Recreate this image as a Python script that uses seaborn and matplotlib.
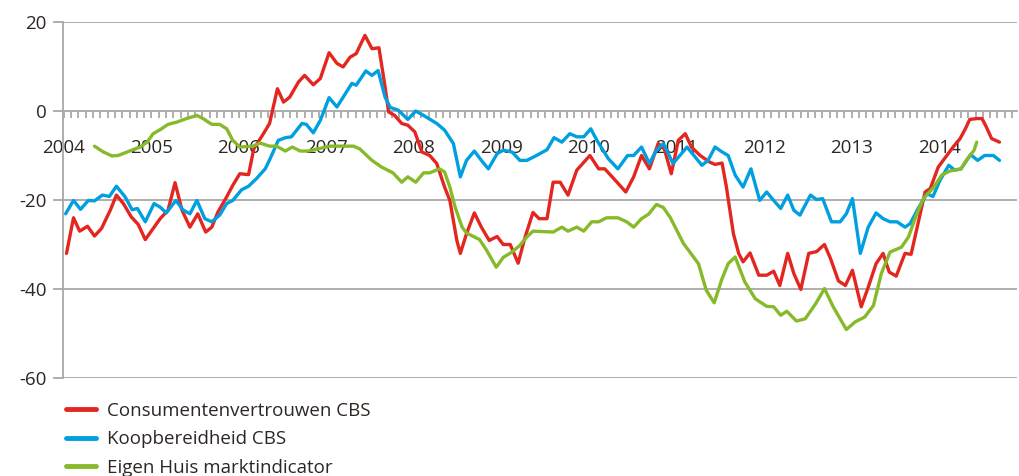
import numpy as np
import pandas as pd
import matplotlib
matplotlib.use("Agg")
import matplotlib.pyplot as plt
from matplotlib.ticker import MultipleLocator, FixedLocator
import seaborn as sns

# Consumentenvertrouwen CBS (decimal year / value)
cv_dates = [2004.03, 2004.11, 2004.18, 2004.27, 2004.35, 2004.43, 2004.53, 2004.60, 2004.68, 2004.77,
            2004.85, 2004.93, 2005.02, 2005.10, 2005.19, 2005.27, 2005.35, 2005.44, 2005.53, 2005.62,
            2005.69, 2005.76, 2005.86, 2005.93, 2006.01, 2006.11, 2006.17, 2006.28, 2006.35, 2006.44,
            2006.51, 2006.58, 2006.68, 2006.75, 2006.85, 2006.93, 2007.03, 2007.12, 2007.19, 2007.27,
            2007.34, 2007.44, 2007.52, 2007.60, 2007.67, 2007.71, 2007.78, 2007.86, 2007.93, 2008.01,
            2008.09, 2008.18, 2008.26, 2008.35, 2008.41, 2008.49, 2008.53, 2008.60, 2008.69, 2008.77,
            2008.86, 2008.95, 2009.02, 2009.10, 2009.19, 2009.27, 2009.36, 2009.43, 2009.52, 2009.59,
            2009.67, 2009.76, 2009.86, 2010.01, 2010.11, 2010.18, 2010.32, 2010.42, 2010.51, 2010.60,
            2010.69, 2010.79, 2010.86, 2010.94, 2011.02, 2011.10, 2011.17, 2011.27, 2011.38, 2011.44,
            2011.52, 2011.57, 2011.65, 2011.71, 2011.76, 2011.84, 2011.94, 2012.03, 2012.11, 2012.18,
            2012.27, 2012.34, 2012.42, 2012.51, 2012.60, 2012.69, 2012.76, 2012.85, 2012.93, 2013.01,
            2013.11, 2013.19, 2013.28, 2013.36, 2013.43, 2013.51, 2013.61, 2013.68, 2013.75, 2013.84,
            2013.90, 2013.99, 2014.07, 2014.16, 2014.24, 2014.30, 2014.35, 2014.43, 2014.49, 2014.54,
            2014.60, 2014.69]
cv_values = [-32.0, -24.0, -27.0, -25.9, -28.1, -26.4, -22.3, -18.9, -20.8, -23.8,
             -25.5, -28.9, -26.4, -24.2, -22.3, -16.1, -22.3, -26.1, -23.1, -27.2,
             -26.1, -22.7, -19.3, -16.7, -14.1, -14.3, -8.5, -5.1, -2.8, 5.0,
             2.0, 3.1, 6.5, 8.0, 5.9, 7.3, 13.1, 10.7, 9.9, 12.1,
             12.9, 17.0, 14.0, 14.2, 5.4, -0.2, -1.0, -2.8, -3.2, -4.7,
             -9.2, -10.0, -11.8, -17.1, -20.1, -29.1, -32.0, -27.6, -22.9, -26.1,
             -29.1, -28.2, -30.0, -30.0, -34.2, -28.3, -22.8, -24.2, -24.2, -16.0,
             -16.0, -18.9, -13.3, -10.0, -13.0, -13.0, -16.0, -18.2, -14.8, -10.0,
             -13.0, -7.3, -8.5, -14.1, -6.6, -5.1, -8.1, -10.0, -11.5, -12.0,
             -11.7, -17.1, -27.6, -32.0, -33.9, -31.9, -36.9, -36.9, -36.0, -39.2,
             -32.0, -36.5, -40.1, -32.0, -31.6, -30.0, -33.2, -38.2, -39.2, -35.8,
             -44.0, -39.6, -34.3, -32.0, -36.2, -37.1, -32.0, -32.2, -26.1, -18.2,
             -17.4, -12.6, -10.5, -8.1, -6.2, -4.0, -1.9, -1.7, -1.7, -3.6,
             -6.2, -7.0]

# Koopbereidheid CBS
kb_dates = [2004.02, 2004.11, 2004.19, 2004.28, 2004.35, 2004.44, 2004.52, 2004.60, 2004.70, 2004.78,
            2004.84, 2004.93, 2005.03, 2005.10, 2005.17, 2005.28, 2005.36, 2005.44, 2005.52, 2005.61,
            2005.69, 2005.78, 2005.86, 2005.93, 2006.03, 2006.11, 2006.20, 2006.30, 2006.35, 2006.45,
            2006.53, 2006.60, 2006.72, 2006.77, 2006.85, 2006.93, 2007.03, 2007.12, 2007.29, 2007.34,
            2007.45, 2007.52, 2007.59, 2007.67, 2007.73, 2007.82, 2007.93, 2008.02, 2008.11, 2008.26,
            2008.35, 2008.45, 2008.53, 2008.60, 2008.69, 2008.77, 2008.85, 2008.95, 2009.02, 2009.12,
            2009.21, 2009.29, 2009.40, 2009.52, 2009.60, 2009.69, 2009.78, 2009.86, 2009.94, 2010.02,
            2010.09, 2010.22, 2010.33, 2010.44, 2010.51, 2010.60, 2010.69, 2010.77, 2010.85, 2010.96,
            2011.12, 2011.29, 2011.36, 2011.44, 2011.52, 2011.59, 2011.67, 2011.76, 2011.85, 2011.95,
            2012.03, 2012.11, 2012.19, 2012.27, 2012.34, 2012.41, 2012.53, 2012.60, 2012.67, 2012.77,
            2012.87, 2012.94, 2013.01, 2013.10, 2013.19, 2013.28, 2013.36, 2013.44, 2013.52, 2013.61,
            2013.67, 2013.76, 2013.86, 2013.93, 2014.01, 2014.11, 2014.18, 2014.25, 2014.36, 2014.44,
            2014.52, 2014.62, 2014.69]
kb_values = [-23.1, -20.1, -22.1, -20.1, -20.2, -18.9, -19.2, -16.9, -19.3, -22.2,
             -21.9, -24.9, -20.8, -21.6, -22.9, -20.1, -22.2, -23.1, -20.1, -24.2,
             -24.9, -23.4, -20.8, -20.1, -17.7, -16.9, -15.2, -13.0, -11.0, -6.6,
             -6.0, -5.8, -2.8, -3.0, -4.9, -2.1, 3.0, 0.9, 6.2, 5.8,
             9.0, 8.0, 9.1, 3.1, 0.8, 0.2, -1.9, 0.0, -1.0, -2.8,
             -4.3, -7.3, -14.8, -11.1, -9.0, -11.1, -13.0, -9.6, -8.8, -9.2,
             -11.1, -11.1, -10.0, -8.7, -6.0, -7.0, -5.1, -5.8, -5.8, -4.0,
             -6.6, -10.7, -13.0, -10.0, -10.0, -8.1, -11.8, -8.8, -7.3, -11.8,
             -8.1, -12.2, -11.1, -8.1, -9.2, -10.0, -14.4, -17.1, -13.0, -20.1,
             -18.2, -20.1, -21.9, -18.9, -22.3, -23.4, -18.9, -19.9, -19.7, -24.9,
             -24.9, -23.1, -19.7, -32.0, -26.1, -22.9, -24.2, -24.9, -24.9, -26.1,
             -25.3, -21.9, -18.6, -19.2, -15.6, -12.2, -13.3, -13.0, -9.8, -11.1,
             -10.0, -10.0, -11.1]

# Eigen Huis marktindicator
eh_dates = [2004.35, 2004.45, 2004.55, 2004.62, 2004.75, 2004.87, 2004.95, 2005.02, 2005.10, 2005.19,
            2005.29, 2005.40, 2005.52, 2005.59, 2005.69, 2005.78, 2005.86, 2005.93, 2006.01, 2006.16,
            2006.24, 2006.35, 2006.43, 2006.53, 2006.61, 2006.70, 2006.79, 2007.04, 2007.31, 2007.38,
            2007.52, 2007.63, 2007.76, 2007.86, 2007.93, 2008.02, 2008.11, 2008.18, 2008.29, 2008.35,
            2008.41, 2008.47, 2008.55, 2008.60, 2008.75, 2008.83, 2008.94, 2009.02, 2009.12, 2009.21,
            2009.29, 2009.36, 2009.59, 2009.69, 2009.76, 2009.86, 2009.94, 2010.03, 2010.11, 2010.20,
            2010.33, 2010.43, 2010.51, 2010.60, 2010.68, 2010.77, 2010.85, 2010.93, 2011.08, 2011.25,
            2011.34, 2011.43, 2011.52, 2011.59, 2011.67, 2011.78, 2011.90, 2012.03, 2012.11, 2012.19,
            2012.26, 2012.37, 2012.47, 2012.59, 2012.69, 2012.79, 2012.94, 2013.04, 2013.15, 2013.25,
            2013.34, 2013.44, 2013.57, 2013.65, 2013.74, 2013.82, 2013.94, 2014.03, 2014.12, 2014.25,
            2014.31, 2014.40, 2014.43]
eh_values = [-7.9, -9.2, -10.1, -10.0, -9.0, -8.1, -7.0, -5.1, -4.2, -3.0,
             -2.5, -1.7, -1.0, -1.7, -3.0, -3.0, -4.0, -6.6, -8.1, -7.9,
             -7.2, -7.9, -7.9, -9.0, -8.1, -9.0, -9.0, -7.9, -7.9, -8.5,
             -11.1, -12.6, -13.9, -16.0, -14.8, -16.0, -13.9, -13.9, -13.0, -13.7,
             -17.1, -21.6, -26.1, -27.4, -28.9, -31.3, -35.1, -32.9, -31.7, -30.2,
             -28.3, -27.0, -27.2, -26.1, -27.0, -26.1, -27.0, -24.9, -24.9, -24.0,
             -24.0, -24.9, -26.1, -24.2, -23.2, -21.0, -21.7, -24.0, -29.8, -34.3,
             -40.3, -43.1, -37.7, -34.3, -32.8, -38.4, -42.2, -43.9, -44.0, -45.9,
             -45.0, -47.2, -46.7, -43.3, -39.9, -44.0, -49.1, -47.4, -46.3, -43.7,
             -36.5, -31.7, -30.6, -28.3, -23.4, -19.7, -17.1, -14.4, -13.5, -13.0,
             -11.1, -8.8, -7.0]

series_names = ["Consumentenvertrouwen CBS", "Koopbereidheid CBS", "Eigen Huis marktindicator"]
series_colors = ["#E3261F", "#009FE0", "#86BA2A"]
year_labels = [str(y) for y in range(2004, 2015)]

df = pd.concat([
    pd.DataFrame({"jaar": cv_dates, "waarde": cv_values, "reeks": series_names[0]}),
    pd.DataFrame({"jaar": kb_dates, "waarde": kb_values, "reeks": series_names[1]}),
    pd.DataFrame({"jaar": eh_dates, "waarde": eh_values, "reeks": series_names[2]}),
])

sns.set_style("white")
plt.rcParams["font.family"] = ["Open Sans", "DejaVu Sans"]
plt.rcParams["axes.unicode_minus"] = False
text_col = "#2d2724"
grid_col = "#A8A8A8"

fig = plt.figure(figsize=(10.19, 4.76), dpi=100)
ax = fig.add_axes([63 / 1019, 1 - 378 / 476, (1017 - 63) / 1019, (378 - 22) / 476])

sns.lineplot(data=df, x="jaar", y="waarde", hue="reeks", palette=series_colors,
             hue_order=series_names, linewidth=2.4, estimator=None, sort=False, ax=ax)

ax.set_xlim(2003.99, 2014.89)
ax.set_ylim(-60, 20)
ax.set_xlabel("")
ax.set_ylabel("")

# horizontal grid
for yv in [20, -20, -40, -60]:
    ax.axhline(yv, color=grid_col, lw=1.3, zorder=0)

for s in ["top", "right"]:
    ax.spines[s].set_visible(False)
ax.spines["left"].set_color(grid_col)
ax.spines["left"].set_linewidth(1.3)
ax.spines["bottom"].set_position(("data", 0))
ax.spines["bottom"].set_color(grid_col)
ax.spines["bottom"].set_linewidth(1.3)
ax.spines["bottom"].set_zorder(0.5)

ax.yaxis.set_major_locator(MultipleLocator(20))
ax.tick_params(axis="y", direction="out", length=7, width=1.3, color=grid_col,
               labelsize=13.5, labelcolor=text_col, pad=5, left=True)

ax.xaxis.set_major_locator(FixedLocator(range(2004, 2015)))
ax.set_xticklabels(year_labels)
ax.xaxis.set_minor_locator(MultipleLocator(1 / 12))
ax.tick_params(axis="x", which="both", direction="out", length=5, width=1.3, color=grid_col, bottom=True)
ax.tick_params(axis="x", which="major", labelsize=13.5, labelcolor=text_col, pad=15)

sns.move_legend(ax, loc="upper left", bbox_to_anchor=(66 / 1019, 1 - 402 / 476),
                bbox_transform=fig.transFigure, title=None, frameon=False,
                fontsize=13.5, handlelength=1.6, handletextpad=0.6, labelspacing=0.55,
                borderpad=0, borderaxespad=0)
leg = ax.get_legend()
for txt in leg.get_texts():
    txt.set_color(text_col)
for ln in leg.get_lines():
    ln.set_linewidth(3.5)

fig.savefig("out.png", dpi=100)
